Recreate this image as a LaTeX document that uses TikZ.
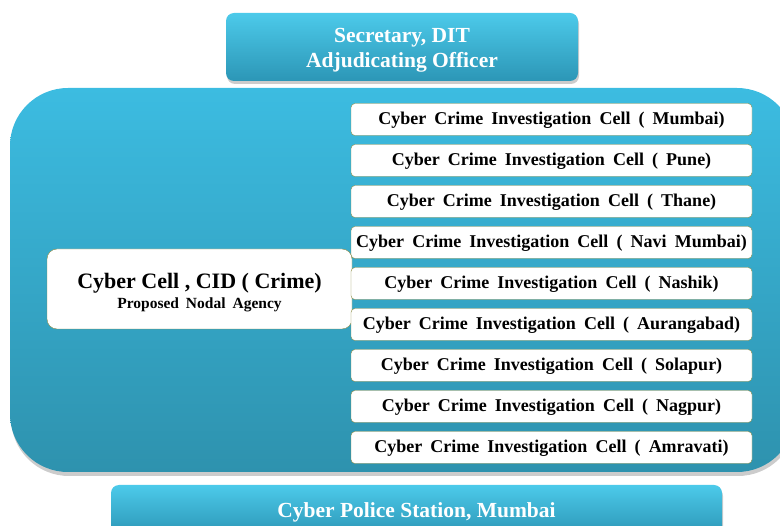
\documentclass[tikz,border=0pt]{standalone}
\usepackage{fontspec}
\setmainfont{Liberation Serif}
\newfontfamily\widefont[WordSpace=1.8]{Liberation Serif}
\usepackage{tikz}
\usetikzlibrary{shapes,positioning,shadows}
\definecolor{headtop}{RGB}{76,202,234}
\definecolor{headbot}{RGB}{44,150,182}
\definecolor{paneltop}{RGB}{60,188,225}
\definecolor{panelbot}{RGB}{46,146,174}
\definecolor{cellline}{RGB}{140,140,70}
\tikzset{head/.style = {rounded corners = 8pt, top color = headtop, bottom color = headbot, text = white,
                        font = \fontsize{21.5}{25}\selectfont\bfseries, align = center,
                        drop shadow = {opacity = .4, shadow xshift = 1pt, shadow yshift = -3pt}},
         panel/.style = {rounded corners = 58pt, top color = paneltop, bottom color = panelbot,
                         drop shadow = {opacity = .4, shadow xshift = 1pt, shadow yshift = -4pt}},
         agency/.style = {draw = cellline, fill = white, rounded corners = 10pt, align = center,
                          minimum width = 305pt, minimum height = 80pt, font = \bfseries},
         cell/.style = {draw = cellline, fill = white, rounded corners = 4pt, minimum width = 401pt,
                        minimum height = 32pt, text height = 15pt, text depth = 4pt,
                        font = \widefont\fontsize{18}{20}\selectfont\bfseries},
}

\begin{document}
\begin{tikzpicture}[x = 1pt, y = -1pt, node distance = 8.6pt]

  \useasboundingbox (0,0) rectangle (780,526);
  \clip (0,0) rectangle (780,526);

  \node[head, minimum width = 352pt, minimum height = 68pt] (dit) at (402,47)
    {\rule{0pt}{21pt}Secretary, DIT\\Adjudicating Officer};
  \node[panel, minimum width = 785pt, minimum height = 384pt] (panel) at (402.5,280) {};
  \node[agency] (nodal) at (199.5,289)
    {\fontsize{22}{22}\selectfont\rule{0pt}{22pt}Cyber Cell , CID ( Crime)\\[4pt]\widefont\fontsize{15.5}{15.5}\selectfont\bfseries Proposed Nodal Agency};

  \node[cell] (mumbai) at (551.5,119.5) {Cyber Crime Investigation Cell ( Mumbai)};
  \node[cell, below = of mumbai] (pune) {Cyber Crime Investigation Cell ( Pune)};
  \node[cell, below = of pune] (thane) {Cyber Crime Investigation Cell ( Thane)};
  \node[cell, below = of thane] (navimumbai) {Cyber Crime Investigation Cell ( Navi Mumbai)};
  \node[cell, below = of navimumbai] (nashik) {Cyber Crime Investigation Cell ( Nashik)};
  \node[cell, below = of nashik] (aurangabad) {Cyber Crime Investigation Cell ( Aurangabad)};
  \node[cell, below = of aurangabad] (solapur) {Cyber Crime Investigation Cell ( Solapur)};
  \node[cell, below = of solapur] (nagpur) {Cyber Crime Investigation Cell ( Nagpur)};
  \node[cell, below = of nagpur] (amravati) {Cyber Crime Investigation Cell ( Amravati)};

  \node[head, minimum width = 611pt, minimum height = 50pt] (station) at (416.5,510)
    {\rule{0pt}{19pt}Cyber Police Station, Mumbai};

\end{tikzpicture}
\end{document}
